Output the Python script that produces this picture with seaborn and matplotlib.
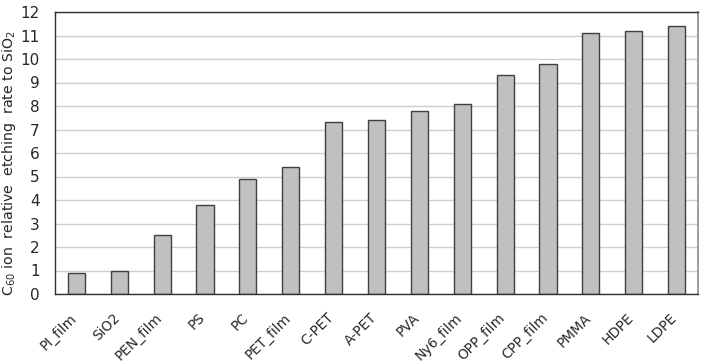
import numpy as np
import pandas as pd
import matplotlib
matplotlib.use("Agg")
import matplotlib.pyplot as plt
import matplotlib.transforms as mtransforms
import seaborn as sns

sns.set_theme(style="white")
plt.rcParams['font.family'] = ['DejaVu Sans']

## Data ##
materials = ["PI_film", "SiO2", "PEN_film", "PS", "PC", "PET_film", "C-PET", "A-PET",
             "PVA", "Ny6_film", "OPP_film", "CPP_film", "PMMA", "HDPE", "LDPE"]
rates = [0.9, 1.0, 2.5, 3.8, 4.9, 5.4, 7.3, 7.4, 7.8, 8.1, 9.3, 9.8, 11.1, 11.2, 11.4]
yticks = list(range(0, 13))

df = pd.DataFrame({"material": materials, "rate": rates})

fig = plt.figure(figsize=(7.03, 3.64), dpi=100)
ax = fig.add_axes([55/703, 1-294/364, 643/703, 282/364])

sns.barplot(data=df, x="material", y="rate", ax=ax, color="#c0c0c0",
            edgecolor="#404040", linewidth=1, width=0.4, saturation=1)

ax.set_ylim(0, 12)
ax.set_xlim(-0.5, len(materials) - 0.5)
ax.set_yticks(yticks)
ax.yaxis.grid(True, color="#cfcfcf", linewidth=1)
ax.set_axisbelow(True)

# boundary ticks pointing in, no ticks at category centres
ax.set_xticks(np.arange(-0.5, len(materials), 1.0), minor=True)
ax.tick_params(axis="x", which="minor", direction="in", length=4, color="#404040", width=0.8)
ax.tick_params(axis="x", which="major", length=0, pad=12)
ax.tick_params(axis="y", length=0, pad=11)
ax.set_xticks(range(len(materials)))
ax.set_xticklabels(materials, rotation=45, ha="right", rotation_mode="anchor", fontsize=9.8)
shift = mtransforms.ScaledTranslation(-5/72, 0, fig.dpi_scale_trans)
for lab in ax.get_xticklabels():
    lab.set_transform(lab.get_transform() + shift)
for lab in ax.get_yticklabels():
    lab.set_fontsize(11)

for side in ["left", "bottom", "top"]:
    ax.spines[side].set_color("#303030")
    ax.spines[side].set_linewidth(1)
ax.spines["right"].set_color("#909090")

ax.set_xlabel("")
ax.set_ylabel(r"C$_{60}$ ion  relative  etching  rate to SiO$_2$", fontsize=10.2)
ax.yaxis.set_label_coords(-0.058, 0.465)

plt.savefig("out.png", dpi=100)
